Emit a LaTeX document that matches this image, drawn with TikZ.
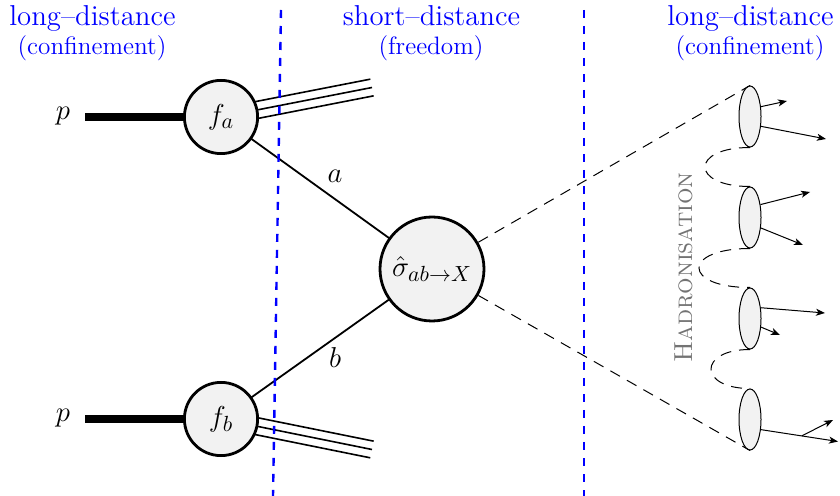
\documentclass[tikz,border=0pt]{standalone}
\usetikzlibrary{calc,shapes.geometric,arrows.meta,backgrounds}
\definecolor{nodefill}{HTML}{F2F2F2}
\begin{document}
\begin{tikzpicture}[x=0.5pt,y=-0.5pt,
  mathfont/.style={font=\fontsize{15.5}{18}\selectfont},
  blob/.style={circle,draw,line width=1.4pt,fill=nodefill,inner sep=0pt,minimum size=#1,mathfont},
  hadron/.style={ellipse,draw,line width=0.5pt,fill=nodefill,inner sep=0pt,minimum width=11pt,minimum height=30.5pt},
  proton/.style={line width=4pt},
  parton/.style={line width=0.9pt},
  remnant/.style={line width=0.8pt},
  region/.style={draw=blue,line width=1.2pt,dash pattern=on 4pt off 4pt},
  hadro/.style={dash pattern=on 5.5pt off 4pt,line width=0.5pt},
  decay/.style={line width=0.5pt,-{Stealth[length=4.5pt,width=3.5pt,inset=1.2pt]}},
  title/.style={text=blue,font=\Large,anchor=base},
  subtitle/.style={text=blue,font=\fontsize{12.6}{15}\selectfont,anchor=base},
  lbl/.style={mathfont,anchor=base},
]
\useasboundingbox (0,0) rectangle (840,496);

% titles
\node[title] (t1) at (92.5,26) {long--distance};
\node[subtitle] (s1) at (92,55) {(confinement)};
\node[title] (t2) at (431.5,26) {short--distance};
\node[subtitle] (s2) at (431,55) {(freedom)};
\node[title] (t3) at (750.5,26) {long--distance};
\node[subtitle] (s3) at (750,55) {(confinement)};

% main nodes
\node[blob=36.6pt] (fa) at (221,117) {$f_a$};
\node[blob=36.6pt] (fb) at (221,419) {$f_b$};
\node[blob=52pt] (sig) at (432,269) {$\hat\sigma_{ab\to X}$};

\node[lbl] (p1) at (63,120) {$p$};
\node[lbl] (p2) at (63,422) {$p$};
\node[lbl] (la) at (335,183) {$a$};
\node[lbl] (lb) at (335,368) {$b$};

\coordinate (pa) at (85,117);
\coordinate (pb) at (85,419);
\coordinate (ra) at (372,87.5);
\coordinate (rb) at (372,449.5);

% hadrons
\node[hadron] (h1) at (750,116.5) {};
\node[hadron] (h2) at (750,217.5) {};
\node[hadron] (h3) at (750,318.5) {};
\node[hadron] (h4) at (750,419.5) {};

\node[rotate=90,anchor=base,text=black!55,font=\fontsize{13}{15}\selectfont\scshape] (hl) at (692,267.5) {Hadronisation};

\begin{scope}[on background layer]
  \draw[proton] (pa) -- (fa.center);
  \draw[proton] (pb) -- (fb.center);
  \draw[parton] (fa.center) -- (sig.center);
  \draw[parton] (fb.center) -- (sig.center);
  \draw[remnant] (fa.center) -- (ra);
  \draw[remnant] ($(fa.center)!4.25pt!90:(ra)$) -- ($(ra)!4.25pt!-90:(fa.center)$);
  \draw[remnant] ($(fa.center)!4.25pt!-90:(ra)$) -- ($(ra)!4.25pt!90:(fa.center)$);
  \draw[remnant] (fb.center) -- (rb);
  \draw[remnant] ($(fb.center)!4.25pt!90:(rb)$) -- ($(rb)!4.25pt!-90:(fb.center)$);
  \draw[remnant] ($(fb.center)!4.25pt!-90:(rb)$) -- ($(rb)!4.25pt!90:(fb.center)$);
\end{scope}

% region separators
\coordinate (v1t) at (281,10);
\coordinate (v1b) at (273,496);
\coordinate (v2t) at (584,10);
\coordinate (v2b) at (584,496);
\draw[region] (v1t) -- (v1b);
\draw[region] (v2t) -- (v2b);

% hadronisation
\draw[hadro] (sig) -- (h1.north);
\draw[hadro] (sig) -- (h4.south);
\draw[hadro] (h1.south) .. controls +(-60,0) and +(-60,0) .. (h2.north);
\draw[hadro] (h2.south) .. controls +(-68,0) and +(-68,0) .. (h3.north);
\draw[hadro] (h3.south) .. controls +(-52,0) and +(-52,0) .. (h4.north);

% decay products
\coordinate (d1a) at (787,101);
\coordinate (d1b) at (826,139);
\coordinate (d2a) at (810,192);
\coordinate (d2b) at (803,245);
\coordinate (d3a) at (825,313);
\coordinate (d3b) at (780,335);
\coordinate (d4a) at (838,441.5);
\coordinate (d4c) at (833,420);
\draw[decay] (h1.42) -- (d1a);
\draw[decay] (h1.-42) -- (d1b);
\draw[decay] (h2.51) -- (d2a);
\draw[decay] (h2.-44) -- (d2b);
\draw[decay] (h3.45) -- (d3a);
\draw[decay] (h3.-38) -- (d3b);
\draw[decay] (h4.-43) -- (d4a);
\coordinate (d4m) at ($(h4.-43)!0.53!(d4a)$);
\draw[decay] (d4m) -- (d4c);
\end{tikzpicture}
\end{document}
